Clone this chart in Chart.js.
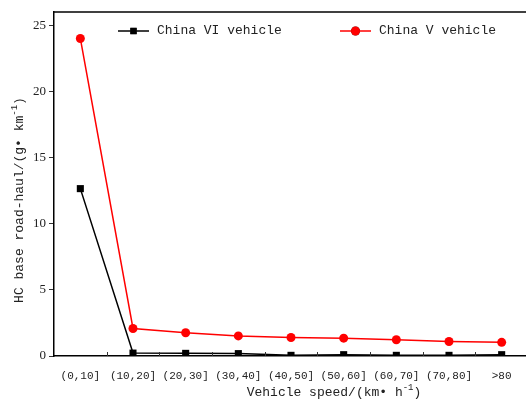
<!DOCTYPE html>
<html>
<head>
<meta charset="utf-8">
<script src="https://cdn.jsdelivr.net/npm/chart.js@4/dist/chart.umd.min.js"></script>
<style>
  html, body { margin: 0; padding: 0; background: #fff; overflow: hidden; }
  canvas { display: block; }
</style>
</head>
<body>
<canvas id="c" width="540" height="401"></canvas>
<script>
// Speed bins on the x axis
const speedBins = ['(0,10]', '(10,20]', '(20,30]', '(30,40]', '(40,50]', '(50,60]', '(60,70]', '(70,80]', '>80'];
// HC base road-haul values, g/km
const chinaVI = [12.65, 0.22, 0.2, 0.18, 0.05, 0.1, 0.05, 0.05, 0.1];
const chinaV = [24.0, 2.08, 1.76, 1.52, 1.40, 1.35, 1.23, 1.10, 1.03];
const yTicks = [0, 5, 10, 15, 20, 25];

const seriesNames = ['China VI vehicle', 'China V vehicle'];
// axis titles as runs of text; "sup" runs are raised and smaller
const xTitle = [{ t: 'Vehicle speed/(km\u2022 h' }, { t: '-1', sup: true }, { t: ')' }];
const yTitle = [{ t: 'HC base road-haul/(g\u2022 km' }, { t: '-1', sup: true }, { t: ')' }];

const textColor = '#222';
const monoFont = '"Liberation Mono", "DejaVu Sans Mono", monospace';

function drawRuns(ctx, runs, cx, cy) {
  const base = '13px ' + monoFont;
  const small = '9px ' + monoFont;
  let total = 0;
  runs.forEach(r => { ctx.font = r.sup ? small : base; total += ctx.measureText(r.t).width; });
  let x = cx - total / 2;
  ctx.textAlign = 'left';
  ctx.textBaseline = 'middle';
  runs.forEach(r => {
    ctx.font = r.sup ? small : base;
    ctx.fillText(r.t, x, r.sup ? cy - 5 : cy);
    x += ctx.measureText(r.t).width;
  });
}

// Frame, inward category ticks, axis titles and the in-plot legend
const decorations = {
  id: 'decorations',
  afterDraw(chart) {
    const { ctx, chartArea: a, scales } = chart;
    const x = scales.x;
    ctx.save();
    // top frame line
    ctx.strokeStyle = '#000';
    ctx.lineWidth = 1.5;
    ctx.beginPath();
    ctx.moveTo(a.left, a.top);
    ctx.lineTo(a.right, a.top);
    ctx.stroke();
    // inward tick marks between categories
    ctx.lineWidth = 1;
    ctx.strokeStyle = '#333';
    for (let i = 1; i < speedBins.length; i++) {
      const px = Math.round((x.getPixelForValue(i - 1) + x.getPixelForValue(i)) / 2) + 0.5;
      ctx.beginPath();
      ctx.moveTo(px, a.bottom);
      ctx.lineTo(px, a.bottom - 4);
      ctx.stroke();
    }
    // axis titles
    ctx.fillStyle = textColor;
    drawRuns(ctx, xTitle, 334, 393);
    ctx.save();
    ctx.translate(20, 200);
    ctx.rotate(-Math.PI / 2);
    drawRuns(ctx, yTitle, 0, 0);
    ctx.restore();
    // legend
    const items = [
      { x0: 118, ds: chart.data.datasets[0], r: 4.5 },
      { x0: 340, ds: chart.data.datasets[1], r: 4.5 }
    ];
    const ly = 31;
    items.forEach(({ x0, ds, r }) => {
      ctx.strokeStyle = ds.borderColor;
      ctx.lineWidth = 1.5;
      ctx.beginPath();
      ctx.moveTo(x0, ly);
      ctx.lineTo(x0 + 31, ly);
      ctx.stroke();
      Chart.helpers.drawPoint(ctx, {
        pointStyle: ds.pointStyle,
        radius: r,
        borderWidth: 0
      }, x0 + 15.5, ly);
      ctx.fillStyle = ds.pointBackgroundColor;
      ctx.fill();
      ctx.fillStyle = textColor;
      ctx.font = '13px ' + monoFont;
      ctx.textAlign = 'left';
      ctx.textBaseline = 'middle';
      ctx.fillText(ds.label, x0 + 39, ly);
    });
    ctx.restore();
  }
};

new Chart(document.getElementById('c'), {
  type: 'line',
  data: {
    labels: speedBins,
    datasets: [
      {
        label: seriesNames[0],
        data: chinaVI,
        borderColor: '#000',
        backgroundColor: '#000',
        pointBackgroundColor: '#000',
        pointBorderColor: '#000',
        pointStyle: 'rect',
        pointRadius: 5,
        pointBorderWidth: 0,
        borderWidth: 1.5,
        tension: 0,
        clip: 0
      },
      {
        label: seriesNames[1],
        data: chinaV,
        borderColor: '#ff0000',
        backgroundColor: '#ff0000',
        pointBackgroundColor: '#ff0000',
        pointBorderColor: '#ff0000',
        pointStyle: 'circle',
        pointRadius: 4.5,
        pointBorderWidth: 0,
        borderWidth: 1.5,
        tension: 0,
        clip: 0
      }
    ]
  },
  options: {
    responsive: false,
    animation: false,
    devicePixelRatio: 1,
    layout: { padding: { left: 0, top: 12, right: 12, bottom: 0 } },
    plugins: {
      legend: { display: false },
      title: { display: false },
      tooltip: { enabled: false }
    },
    scales: {
      x: {
        type: 'category',
        offset: true,
        grid: { display: false, drawTicks: false },
        border: { display: true, color: '#000', width: 1.5 },
        ticks: {
          color: textColor,
          font: { family: monoFont, size: 11 },
          padding: 13,
          maxRotation: 0,
          autoSkip: false
        },
        afterFit(scale) { scale.height = 45; }
      },
      y: {
        min: 0,
        max: 26,
        grid: { display: true, drawOnChartArea: false, drawTicks: true, tickLength: 5, color: '#333', lineWidth: 1 },
        border: { display: true, color: '#000', width: 1.5 },
        afterBuildTicks(scale) { scale.ticks = yTicks.map(v => ({ value: v })); },
        ticks: {
          color: textColor,
          font: { family: '"Liberation Serif", serif', size: 13 },
          padding: 3
        },
        afterFit(scale) { scale.width = 54; }
      }
    }
  },
  plugins: [decorations]
});
</script>
</body>
</html>
